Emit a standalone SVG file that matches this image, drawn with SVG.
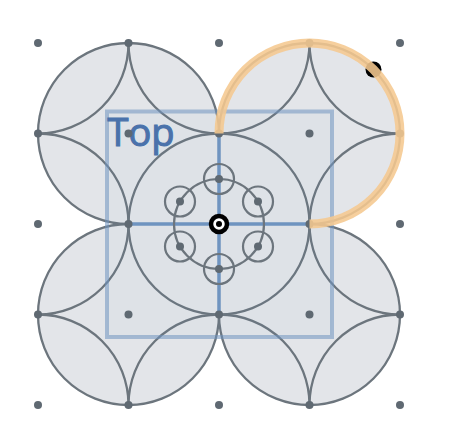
<svg xmlns="http://www.w3.org/2000/svg" width="450" height="442" viewBox="0 0 450 442">
<style>
.f{fill:#e3e5e9;stroke:none}
.a{fill:none;stroke:#6c757d;stroke-width:2.300}
.d{fill:#5f6972}
.r{fill:none;stroke:#6c757d;stroke-width:2.200}
.b{fill:none;stroke:#6f94c0;stroke-width:3.500}
</style>
<rect width="450" height="442" fill="#fff"/>
<g id="fill">
<circle class="f" cx="128.500" cy="133.500" r="90.500"/><circle class="f" cx="309.500" cy="133.500" r="90.500"/><circle class="f" cx="128.500" cy="314.500" r="90.500"/><circle class="f" cx="309.500" cy="314.500" r="90.500"/><circle class="f" cx="219" cy="224" r="90.500"/>
</g>
<g id="connectors">
<path class="a" d="M128.500 43A90.500 90.500 0 0 0 38 133.500A90.500 90.500 0 0 0 128.500 224M128.500 43A90.500 90.500 0 0 1 219 133.500M128.500 43A90.500 90.500 0 0 1 38 133.500A90.500 90.500 0 0 1 128.500 224"/>
<path class="a" d="M128.500 43A90.500 90.500 0 0 0 219 133.500"/>
<path class="a" d="M309.500 43A90.500 90.500 0 0 1 400 133.500A90.500 90.500 0 0 1 309.500 224M309.500 43A90.500 90.500 0 0 0 219 133.500M309.500 43A90.500 90.500 0 0 1 219 133.500M309.500 43A90.500 90.500 0 0 0 400 133.500A90.500 90.500 0 0 0 309.500 224"/>
<path class="a" d="M38 314.500A90.500 90.500 0 0 0 128.500 405A90.500 90.500 0 0 0 219 314.500M38 314.500A90.500 90.500 0 0 1 128.500 224M38 314.500A90.500 90.500 0 0 1 128.500 405A90.500 90.500 0 0 1 219 314.500M38 314.500A90.500 90.500 0 0 0 128.500 224"/>
<path class="a" d="M219 314.500A90.500 90.500 0 0 0 309.500 405A90.500 90.500 0 0 0 400 314.500A90.500 90.500 0 0 0 309.500 224M219 314.500A90.500 90.500 0 0 1 309.500 405A90.500 90.500 0 0 1 400 314.500A90.500 90.500 0 0 1 309.500 224"/>
<circle class="a" cx="219" cy="224" r="90.500"/>
</g>
<g id="top">
<rect x="107" y="111.500" width="225" height="225.500" fill="#6f94c0" fill-opacity=".04" stroke="#6f94c0" stroke-opacity=".55" stroke-width="4"/>
<text x="107.500" y="146" font-family="'Open Sans',sans-serif" font-size="38" fill="#4a72ab" stroke="#4a72ab" stroke-width="1.100">Top</text>
</g>
<g id="cross"><path class="b" d="M128.500 224H309.500M219 133.500V314.500"/></g>
<g id="ring">
<circle class="r" cx="219" cy="224" r="45"/>
<circle class="r" cx="219" cy="179" r="15"/><circle class="r" cx="258" cy="201.500" r="15"/><circle class="r" cx="258" cy="246.500" r="15"/><circle class="r" cx="219" cy="269" r="15"/><circle class="r" cx="180" cy="246.500" r="15"/><circle class="r" cx="180" cy="201.500" r="15"/>
</g>
<g id="dots">
<circle class="d" cx="38" cy="43" r="4"/><circle class="d" cx="128.500" cy="43" r="4"/><circle class="d" cx="219" cy="43" r="4"/><circle class="d" cx="309.500" cy="43" r="4"/><circle class="d" cx="400" cy="43" r="4"/>
<circle class="d" cx="38" cy="133.500" r="4"/><circle class="d" cx="128.500" cy="133.500" r="4"/><circle class="d" cx="219" cy="133.500" r="4"/><circle class="d" cx="309.500" cy="133.500" r="4"/><circle class="d" cx="400" cy="133.500" r="4"/>
<circle class="d" cx="38" cy="224" r="4"/><circle class="d" cx="128.500" cy="224" r="4"/><circle class="d" cx="309.500" cy="224" r="4"/><circle class="d" cx="400" cy="224" r="4"/>
<circle class="d" cx="38" cy="314.500" r="4"/><circle class="d" cx="128.500" cy="314.500" r="4"/><circle class="d" cx="219" cy="314.500" r="4"/><circle class="d" cx="309.500" cy="314.500" r="4"/><circle class="d" cx="400" cy="314.500" r="4"/>
<circle class="d" cx="38" cy="405" r="4"/><circle class="d" cx="128.500" cy="405" r="4"/><circle class="d" cx="219" cy="405" r="4"/><circle class="d" cx="309.500" cy="405" r="4"/><circle class="d" cx="400" cy="405" r="4"/>
<circle class="d" cx="219" cy="179" r="4"/><circle class="d" cx="258" cy="201.500" r="4"/><circle class="d" cx="258" cy="246.500" r="4"/><circle class="d" cx="219" cy="269" r="4"/><circle class="d" cx="180" cy="246.500" r="4"/><circle class="d" cx="180" cy="201.500" r="4"/>
</g>
<g id="center">
<circle cx="219" cy="224" r="8" fill="#fff" stroke="#000" stroke-width="4.500"/><circle cx="219" cy="224" r="3" fill="#000"/>
</g>
<g id="handle"><circle cx="373.500" cy="69.500" r="8" fill="#000"/></g>
<g id="highlight"><path d="M219 133.500A90.500 90.500 0 1 1 309.500 224" fill="none" stroke="#f5c88f" stroke-opacity=".88" stroke-width="9"/></g>
</svg>
